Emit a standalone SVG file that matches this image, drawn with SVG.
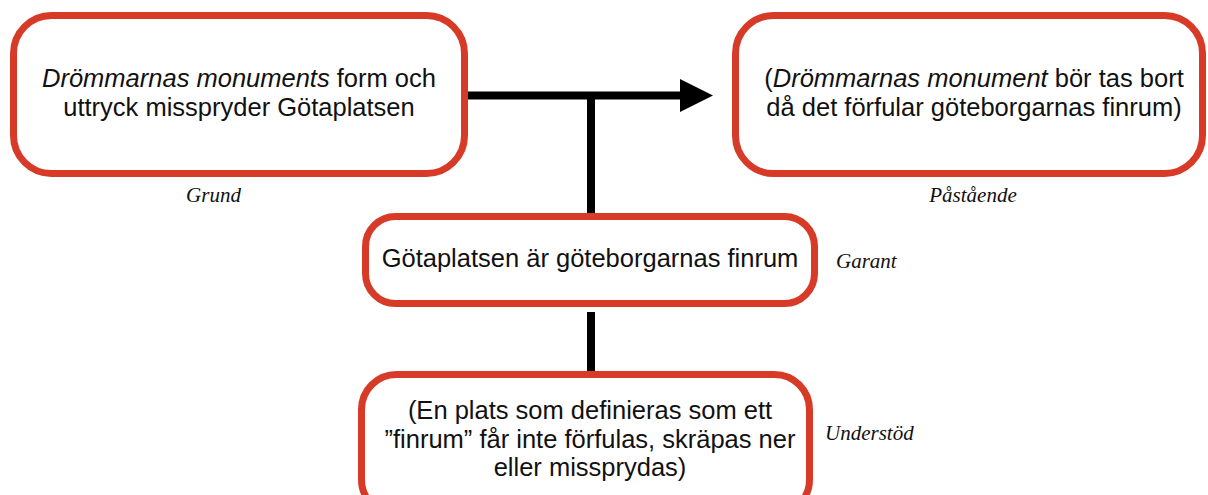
<svg xmlns="http://www.w3.org/2000/svg" width="1208" height="495" viewBox="0 0 1208 495">
<style>
.box{fill:#fff;stroke:#D73B28;stroke-width:7}
.t{font-family:"Liberation Sans",Arial,Helvetica,sans-serif;font-size:25.5px;fill:#111;text-anchor:middle}
.lbl{font-family:"Liberation Serif","Times New Roman",serif;font-style:italic;font-size:21px;fill:#111}
.c{stroke:#000;stroke-width:8;fill:none}
</style>
<rect width="1208" height="495" fill="#fff"/>
<g id="connectors">
<line class="c" x1="468" y1="95.5" x2="684" y2="95.5"/>
<polygon points="680,79 713,95.5 680,112" fill="#000"/>
<line class="c" x1="591" y1="95.5" x2="591" y2="214"/>
<line class="c" x1="591" y1="312" x2="591" y2="372"/>
</g>
<g id="grund">
<rect class="box" x="13.5" y="15.5" width="451" height="158" rx="38"/>
<text class="t" x="239" y="87"><tspan font-style="italic">Drömmarnas monuments</tspan> form och</text>
<text class="t" x="239" y="116">uttryck misspryder Götaplatsen</text>
<text class="lbl" x="213.5" y="202" text-anchor="middle">Grund</text>
</g>
<g id="pastaende">
<rect class="box" x="735.5" y="15.5" width="467" height="158" rx="38"/>
<text class="t" x="974" y="87">(<tspan font-style="italic">Drömmarnas monument</tspan> bör tas bort</text>
<text class="t" x="974" y="116">då det förfular göteborgarnas finrum)</text>
<text class="lbl" x="973" y="202" text-anchor="middle">Påstående</text>
</g>
<g id="garant">
<rect class="box" x="365.5" y="216.5" width="449" height="87" rx="30"/>
<text class="t" x="590" y="267">Götaplatsen är göteborgarnas finrum</text>
<text class="lbl" x="836" y="268">Garant</text>
</g>
<g id="understod">
<rect class="box" x="361.5" y="374.5" width="448" height="140" rx="35"/>
<text class="t" x="590" y="419">(En plats som definieras som ett</text>
<text class="t" x="590" y="448">”finrum” får inte förfulas, skräpas ner</text>
<text class="t" x="590" y="476">eller missprydas)</text>
<text class="lbl" x="825" y="440">Understöd</text>
</g>
</svg>
